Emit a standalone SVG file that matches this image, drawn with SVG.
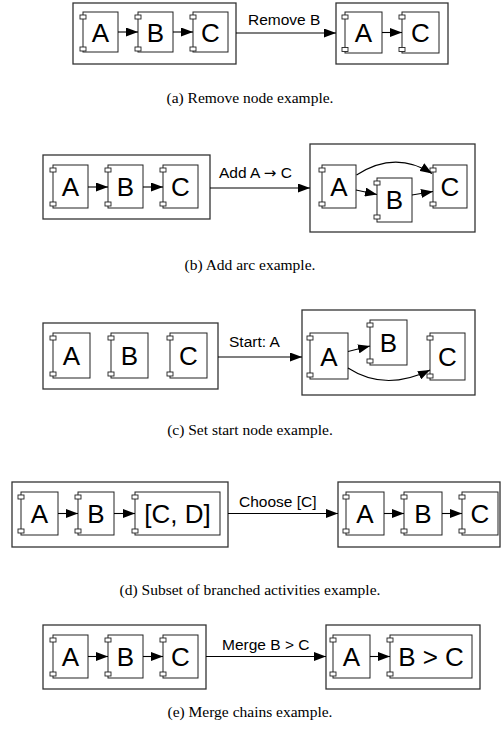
<svg xmlns="http://www.w3.org/2000/svg" width="501" height="738" viewBox="0 0 501 738">
<defs>
<style>
.frame{fill:#fff;stroke:#333;stroke-width:1.3}
.body{fill:#fff;stroke:#222;stroke-width:1}
.tab{fill:#fff;stroke:#222;stroke-width:0.9}
.lbl{font-family:"Liberation Sans",Arial,sans-serif;font-size:26px;fill:#000;text-anchor:middle}
.elbl{font-family:"Liberation Sans",Arial,sans-serif;font-size:15.5px;fill:#000}
.cap{font-family:"Liberation Serif","Times New Roman",serif;font-size:15.5px;fill:#000;text-anchor:middle}
.conn{fill:none;stroke:#000;stroke-width:1.1}
</style>
<marker id="ah" markerUnits="userSpaceOnUse" markerWidth="12" markerHeight="9" refX="12" refY="4.5" orient="auto">
<path d="M0,0 L12,4.5 L0,9 Z" fill="#000"/>
</marker>
</defs>
<rect width="501" height="738" fill="#fff"/>

<!-- (a) -->
<g id="a-left"><rect class="frame" x="73" y="3" width="163" height="61"/></g>
<g id="a-right"><rect class="frame" x="336" y="3" width="112" height="61"/></g>
<g id="a-A"><rect class="body" x="83" y="12" width="35" height="40"/><rect class="tab" x="80" y="15" width="6" height="4"/><rect class="tab" x="80" y="47" width="6" height="4"/><text class="lbl" x="100.5" y="41.5">A</text></g>
<g id="a-B"><rect class="body" x="138" y="12" width="35" height="40"/><rect class="tab" x="135" y="15" width="6" height="4"/><rect class="tab" x="135" y="47" width="6" height="4"/><text class="lbl" x="155.5" y="41.5">B</text></g>
<g id="a-C"><rect class="body" x="193" y="12" width="35" height="40"/><rect class="tab" x="190" y="15" width="6" height="4"/><rect class="tab" x="190" y="47" width="6" height="4"/><text class="lbl" x="210.5" y="41.5">C</text></g>
<g id="a-A2"><rect class="body" x="345" y="12" width="37" height="41"/><rect class="tab" x="342" y="15" width="6" height="4"/><rect class="tab" x="342" y="47.5" width="6" height="4"/><text class="lbl" x="363.5" y="42">A</text></g>
<g id="a-C2"><rect class="body" x="402" y="12" width="37" height="41"/><rect class="tab" x="399" y="15" width="6" height="4"/><rect class="tab" x="399" y="47.5" width="6" height="4"/><text class="lbl" x="420.5" y="42">C</text></g>
<text class="elbl" x="248" y="25">Remove B</text>
<text class="cap" x="250" y="103">(a) Remove node example.</text>

<!-- (b) -->
<g id="b-left"><rect class="frame" x="43" y="155" width="167" height="64"/></g>
<g id="b-right"><rect class="frame" x="310" y="144" width="165" height="88"/></g>
<g id="b-A"><rect class="body" x="53" y="165" width="35" height="43"/><rect class="tab" x="50" y="168" width="6" height="4"/><rect class="tab" x="50" y="202" width="6" height="4"/><text class="lbl" x="70.5" y="196">A</text></g>
<g id="b-B"><rect class="body" x="108" y="165" width="35" height="43"/><rect class="tab" x="105" y="168" width="6" height="4"/><rect class="tab" x="105" y="202" width="6" height="4"/><text class="lbl" x="125.5" y="196">B</text></g>
<g id="b-C"><rect class="body" x="163" y="165" width="35" height="43"/><rect class="tab" x="160" y="168" width="6" height="4"/><rect class="tab" x="160" y="202" width="6" height="4"/><text class="lbl" x="180.5" y="196">C</text></g>
<g id="b-A2"><rect class="body" x="322" y="165" width="34" height="43"/><rect class="tab" x="319" y="168" width="6" height="4"/><rect class="tab" x="319" y="202" width="6" height="4"/><text class="lbl" x="339" y="196">A</text></g>
<g id="b-B2"><rect class="body" x="377" y="178" width="35" height="44"/><rect class="tab" x="374" y="181" width="6" height="4"/><rect class="tab" x="374" y="215" width="6" height="4"/><text class="lbl" x="394.5" y="209">B</text></g>
<g id="b-C2"><rect class="body" x="433" y="165" width="34" height="43"/><rect class="tab" x="430" y="168" width="6" height="4"/><rect class="tab" x="430" y="202" width="6" height="4"/><text class="lbl" x="450" y="196">C</text></g>
<text class="elbl" x="219" y="178">Add A <tspan font-family="DejaVu Sans, sans-serif" font-size="15px">→</tspan> C</text>
<text class="cap" x="250" y="270">(b) Add arc example.</text>

<!-- (c) -->
<g id="c-left"><rect class="frame" x="43" y="323" width="175" height="66"/></g>
<g id="c-right"><rect class="frame" x="302" y="310" width="173" height="85"/></g>
<g id="c-A"><rect class="body" x="53" y="333" width="37" height="45"/><rect class="tab" x="50" y="336" width="6" height="4"/><rect class="tab" x="50" y="372" width="6" height="4"/><text class="lbl" x="71.5" y="365">A</text></g>
<g id="c-B"><rect class="body" x="111" y="333" width="37" height="45"/><rect class="tab" x="108" y="336" width="6" height="4"/><rect class="tab" x="108" y="372" width="6" height="4"/><text class="lbl" x="129.5" y="365">B</text></g>
<g id="c-C"><rect class="body" x="170" y="333" width="37" height="45"/><rect class="tab" x="167" y="336" width="6" height="4"/><rect class="tab" x="167" y="372" width="6" height="4"/><text class="lbl" x="188.5" y="365">C</text></g>
<g id="c-A2"><rect class="body" x="310" y="333" width="38" height="46"/><rect class="tab" x="307" y="336" width="6" height="4"/><rect class="tab" x="307" y="373" width="6" height="4"/><text class="lbl" x="329" y="365.5">A</text></g>
<g id="c-B2"><rect class="body" x="370" y="320" width="37" height="45"/><rect class="tab" x="367" y="323" width="6" height="4"/><rect class="tab" x="367" y="359" width="6" height="4"/><text class="lbl" x="388.5" y="352">B</text></g>
<g id="c-C2"><rect class="body" x="430" y="333" width="35" height="47"/><rect class="tab" x="427" y="336" width="6" height="4"/><rect class="tab" x="427" y="374" width="6" height="4"/><text class="lbl" x="447.5" y="366">C</text></g>
<text class="elbl" x="229" y="347">Start: A</text>
<text class="cap" x="250" y="435">(c) Set start node example.</text>

<!-- (d) -->
<g id="d-left"><rect class="frame" x="12" y="482" width="216" height="65"/></g>
<g id="d-right"><rect class="frame" x="338" y="482" width="162" height="65"/></g>
<g id="d-A"><rect class="body" x="21" y="492" width="37" height="43"/><rect class="tab" x="18" y="495" width="6" height="4"/><rect class="tab" x="18" y="529" width="6" height="4"/><text class="lbl" x="39.5" y="523">A</text></g>
<g id="d-B"><rect class="body" x="78" y="492" width="36" height="43"/><rect class="tab" x="75" y="495" width="6" height="4"/><rect class="tab" x="75" y="529" width="6" height="4"/><text class="lbl" x="96" y="523">B</text></g>
<g id="d-CD"><rect class="body" x="135" y="492" width="85" height="43"/><rect class="tab" x="132" y="495" width="6" height="4"/><rect class="tab" x="132" y="529" width="6" height="4"/><text class="lbl" x="177.5" y="523">[C, D]</text></g>
<g id="d-A2"><rect class="body" x="346" y="492" width="38" height="43"/><rect class="tab" x="343" y="495" width="6" height="4"/><rect class="tab" x="343" y="529" width="6" height="4"/><text class="lbl" x="365" y="523">A</text></g>
<g id="d-B2"><rect class="body" x="404" y="492" width="38" height="43"/><rect class="tab" x="401" y="495" width="6" height="4"/><rect class="tab" x="401" y="529" width="6" height="4"/><text class="lbl" x="423" y="523">B</text></g>
<g id="d-C2"><rect class="body" x="462" y="492" width="36" height="43"/><rect class="tab" x="459" y="495" width="6" height="4"/><rect class="tab" x="459" y="529" width="6" height="4"/><text class="lbl" x="480" y="523">C</text></g>
<text class="elbl" x="239" y="507">Choose [C]</text>
<text class="cap" x="250" y="595">(d) Subset of branched activities example.</text>

<!-- (e) -->
<g id="e-left"><rect class="frame" x="43" y="625" width="163" height="64"/></g>
<g id="e-right"><rect class="frame" x="326" y="625" width="154" height="64"/></g>
<g id="e-A"><rect class="body" x="53" y="635" width="35" height="43"/><rect class="tab" x="50" y="638" width="6" height="4"/><rect class="tab" x="50" y="672" width="6" height="4"/><text class="lbl" x="70.5" y="666">A</text></g>
<g id="e-B"><rect class="body" x="108" y="635" width="35" height="43"/><rect class="tab" x="105" y="638" width="6" height="4"/><rect class="tab" x="105" y="672" width="6" height="4"/><text class="lbl" x="125.5" y="666">B</text></g>
<g id="e-C"><rect class="body" x="163" y="635" width="35" height="43"/><rect class="tab" x="160" y="638" width="6" height="4"/><rect class="tab" x="160" y="672" width="6" height="4"/><text class="lbl" x="180.5" y="666">C</text></g>
<g id="e-A2"><rect class="body" x="333" y="635" width="37" height="43"/><rect class="tab" x="330" y="638" width="6" height="4"/><rect class="tab" x="330" y="672" width="6" height="4"/><text class="lbl" x="351.5" y="666">A</text></g>
<g id="e-BC"><rect class="body" x="390" y="635" width="82" height="43"/><rect class="tab" x="387" y="638" width="6" height="4"/><rect class="tab" x="387" y="672" width="6" height="4"/><text class="lbl" x="431" y="666">B &gt; C</text></g>
<text class="elbl" x="222" y="650">Merge B &gt; C</text>
<text class="cap" x="250" y="717">(e) Merge chains example.</text>

<g id="connectors">
<!-- (a) -->
<line class="conn" x1="118" y1="32" x2="138" y2="32" marker-end="url(#ah)"/>
<line class="conn" x1="173" y1="32" x2="193" y2="32" marker-end="url(#ah)"/>
<line class="conn" x1="236" y1="33" x2="336" y2="33" marker-end="url(#ah)"/>
<line class="conn" x1="382" y1="32.5" x2="402" y2="32.5" marker-end="url(#ah)"/>
<!-- (b) -->
<line class="conn" x1="88" y1="187" x2="108" y2="187" marker-end="url(#ah)"/>
<line class="conn" x1="143" y1="187" x2="163" y2="187" marker-end="url(#ah)"/>
<line class="conn" x1="210" y1="188" x2="310" y2="188" marker-end="url(#ah)"/>
<line class="conn" x1="356" y1="190" x2="377" y2="194.5" marker-end="url(#ah)"/>
<line class="conn" x1="412" y1="195" x2="433" y2="191.5" marker-end="url(#ah)"/>
<path class="conn" d="M356.5,175 Q395,150 432,173.5" marker-end="url(#ah)"/>
<!-- (c) -->
<line class="conn" x1="218" y1="357" x2="302" y2="357" marker-end="url(#ah)"/>
<line class="conn" x1="348" y1="351.5" x2="370" y2="346" marker-end="url(#ah)"/>
<path class="conn" d="M348,368 Q385,392 430,370" marker-end="url(#ah)"/>
<!-- (d) -->
<line class="conn" x1="58" y1="513.5" x2="78" y2="513.5" marker-end="url(#ah)"/>
<line class="conn" x1="114" y1="513.5" x2="135" y2="513.5" marker-end="url(#ah)"/>
<line class="conn" x1="228" y1="513.5" x2="338" y2="513.5" marker-end="url(#ah)"/>
<line class="conn" x1="384" y1="513.5" x2="404" y2="513.5" marker-end="url(#ah)"/>
<line class="conn" x1="442" y1="513.5" x2="462" y2="513.5" marker-end="url(#ah)"/>
<!-- (e) -->
<line class="conn" x1="88" y1="656.5" x2="108" y2="656.5" marker-end="url(#ah)"/>
<line class="conn" x1="143" y1="656.5" x2="163" y2="656.5" marker-end="url(#ah)"/>
<line class="conn" x1="206" y1="656.5" x2="326" y2="656.5" marker-end="url(#ah)"/>
<line class="conn" x1="370" y1="656.5" x2="390" y2="656.5" marker-end="url(#ah)"/>
</g>
</svg>
